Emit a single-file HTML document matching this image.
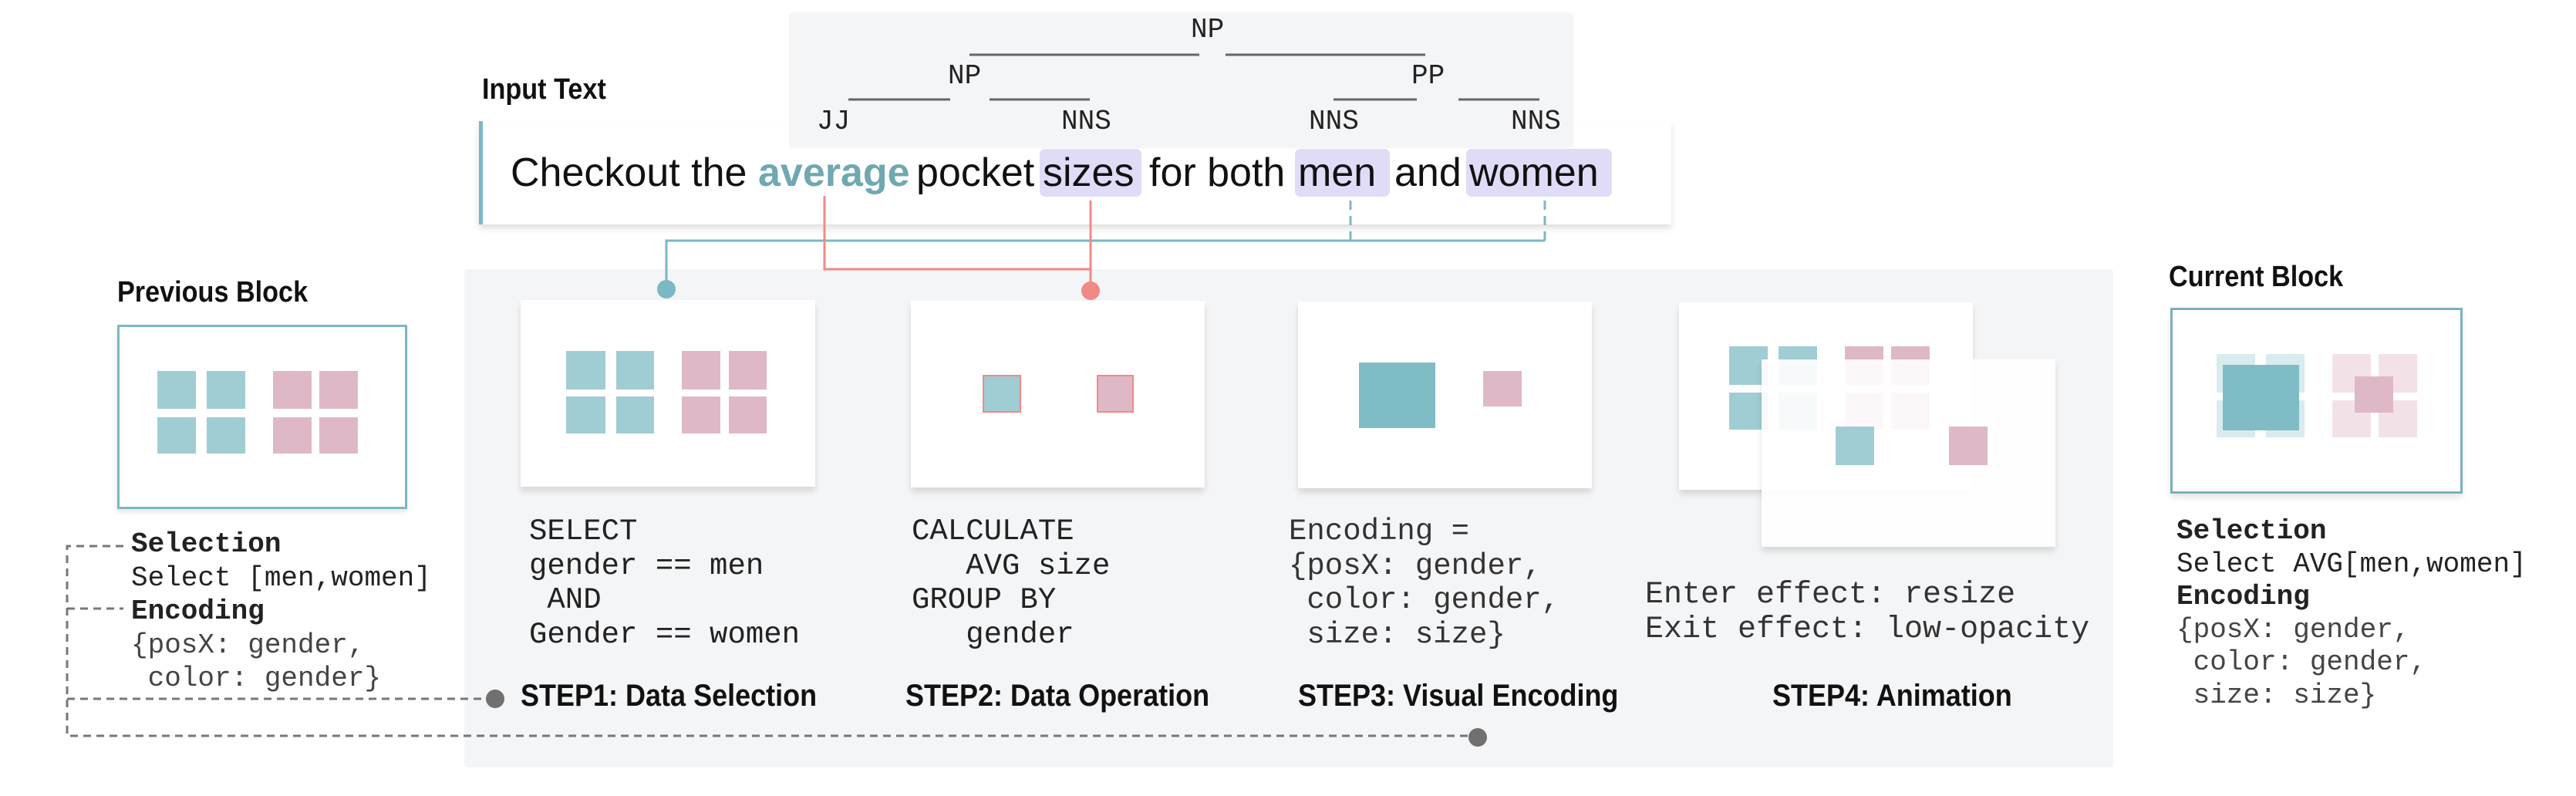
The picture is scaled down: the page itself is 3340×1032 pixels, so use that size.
<!DOCTYPE html>
<html><head><meta charset="utf-8"><style>
body{margin:0;width:3340px;height:1032px;background:#fff;position:relative;overflow:hidden;font-family:"Liberation Sans",sans-serif}
div,span{position:absolute;box-sizing:border-box}
.t{background:#a0ccd4}.p{background:#dfb8c8}
.card{background:#fff;box-shadow:0 6px 8px rgba(0,0,0,0.12)}
.mono{font-family:"Liberation Mono",monospace;white-space:pre;color:#222}
.lbl{font-weight:bold;color:#111;white-space:nowrap;transform:scaleX(0.9);transform-origin:left}
.hl{background:#e0dcf8;border-radius:7px}
#sent span{top:0;white-space:nowrap}
</style></head><body>
<!-- input text box -->
<div style="left:621px;top:157px;width:1546px;height:134px;background:#fff;box-shadow:0 5px 8px rgba(0,0,0,0.13);border-left:5px solid #7ab8c4"></div>
<div class="hl" style="left:1348px;top:193px;width:132px;height:62px"></div>
<div class="hl" style="left:1679px;top:193px;width:123px;height:62px"></div>
<div class="hl" style="left:1901px;top:193px;width:189px;height:62px"></div>
<div id="sent" style="left:0;top:193px;width:3340px;height:62px;line-height:62px;font-size:52px;color:#111">
<span style="left:662px">Checkout the</span>
<span style="left:983px;color:#6fa8b0;font-weight:bold">average</span>
<span style="left:1188px">pocket</span>
<span style="left:1352px">sizes</span>
<span style="left:1490px">for both</span>
<span style="left:1683px">men</span>
<span style="left:1808px">and</span>
<span style="left:1905px">women</span>
</div>
<!-- tree box -->
<div style="left:1023px;top:16px;width:1017px;height:176px;background:#f4f5f7;border-radius:5px"></div>
<div class="mono" style="left:0;top:0;width:3340px;height:200px;font-size:36px">
<span style="left:1544px;top:18px">NP</span>
<span style="left:1229px;top:78px">NP</span>
<span style="left:1830px;top:78px">PP</span>
<span style="left:1059px;top:137px">JJ</span>
<span style="left:1376px;top:137px">NNS</span>
<span style="left:1697px;top:137px">NNS</span>
<span style="left:1959px;top:137px">NNS</span>
</div>
<svg width="3340" height="1032" style="position:absolute;left:0;top:0" >
<g stroke="#666" stroke-width="3">
<line x1="1257" y1="71" x2="1555" y2="71"/><line x1="1589" y1="71" x2="1848" y2="71"/>
<line x1="1100" y1="129" x2="1232" y2="129"/><line x1="1283" y1="129" x2="1413" y2="129"/>
<line x1="1729" y1="129" x2="1837" y2="129"/><line x1="1891" y1="129" x2="1996" y2="129"/>
</g>
</svg>
<!-- big panel -->
<div style="left:602px;top:349px;width:2138px;height:646px;background:#f4f5f7;border-radius:4px"></div>
<!-- cards -->
<div class="card" style="left:675px;top:389px;width:382px;height:242px"></div>
<div class="t" style="left:734px;top:455px;width:51px;height:50px"></div><div class="t" style="left:799px;top:455px;width:49px;height:50px"></div>
<div class="t" style="left:734px;top:514px;width:51px;height:48px"></div><div class="t" style="left:799px;top:514px;width:49px;height:48px"></div>
<div class="p" style="left:884px;top:455px;width:50px;height:50px"></div><div class="p" style="left:945px;top:455px;width:49px;height:50px"></div>
<div class="p" style="left:884px;top:514px;width:50px;height:48px"></div><div class="p" style="left:945px;top:514px;width:49px;height:48px"></div>

<div class="card" style="left:1181px;top:390px;width:381px;height:242px"></div>
<div class="t" style="left:1274px;top:486px;width:50px;height:49px;border:2px solid #f08a84"></div>
<div class="p" style="left:1422px;top:486px;width:48px;height:49px;border:2px solid #f08a84"></div>

<div class="card" style="left:1683px;top:391px;width:381px;height:242px"></div>
<div style="left:1762px;top:470px;width:99px;height:85px;background:#80bcc6"></div>
<div class="p" style="left:1923px;top:481px;width:50px;height:46px"></div>

<div class="card" style="left:2177px;top:392px;width:381px;height:243px"></div>
<div class="t" style="left:2242px;top:449px;width:50px;height:50px"></div><div class="t" style="left:2306px;top:449px;width:50px;height:50px"></div>
<div class="t" style="left:2242px;top:509px;width:50px;height:48px"></div><div class="t" style="left:2306px;top:509px;width:50px;height:48px"></div>
<div class="p" style="left:2392px;top:449px;width:50px;height:50px"></div><div class="p" style="left:2452px;top:449px;width:50px;height:50px"></div>
<div class="p" style="left:2392px;top:509px;width:50px;height:48px"></div><div class="p" style="left:2452px;top:509px;width:50px;height:48px"></div>
<div style="left:2284px;top:466px;width:381px;height:243px;background:rgba(255,255,255,0.9);box-shadow:0 6px 8px rgba(0,0,0,0.12)"></div>
<div class="t" style="left:2380px;top:553px;width:50px;height:50px"></div>
<div class="p" style="left:2527px;top:553px;width:50px;height:50px"></div>

<!-- previous block -->
<div style="left:152px;top:421px;width:376px;height:239px;border:3px solid #7ab8c4;background:#fff;box-shadow:0 4px 6px rgba(0,0,0,0.1)"></div>
<div class="t" style="left:204px;top:481px;width:50px;height:49px"></div><div class="t" style="left:268px;top:481px;width:50px;height:49px"></div>
<div class="t" style="left:204px;top:541px;width:50px;height:47px"></div><div class="t" style="left:268px;top:541px;width:50px;height:47px"></div>
<div class="p" style="left:354px;top:481px;width:50px;height:49px"></div><div class="p" style="left:414px;top:481px;width:50px;height:49px"></div>
<div class="p" style="left:354px;top:541px;width:50px;height:47px"></div><div class="p" style="left:414px;top:541px;width:50px;height:47px"></div>

<!-- current block -->
<div style="left:2814px;top:399px;width:379px;height:241px;border:3px solid #7ab0bc;background:#fff;box-shadow:0 5px 8px rgba(0,0,0,0.1)"></div>
<div style="left:2874px;top:459px;width:50px;height:50px;background:#d8ebee"></div><div style="left:2938px;top:459px;width:50px;height:50px;background:#d8ebee"></div>
<div style="left:2874px;top:519px;width:50px;height:48px;background:#d8ebee"></div><div style="left:2938px;top:519px;width:50px;height:48px;background:#d8ebee"></div>
<div style="left:2882px;top:473px;width:99px;height:85px;background:#80bcc6"></div>
<div style="left:3024px;top:459px;width:50px;height:50px;background:#f2e2e8"></div><div style="left:3084px;top:459px;width:50px;height:50px;background:#f2e2e8"></div>
<div style="left:3024px;top:519px;width:50px;height:48px;background:#f2e2e8"></div><div style="left:3084px;top:519px;width:50px;height:48px;background:#f2e2e8"></div>
<div class="p" style="left:3053px;top:488px;width:50px;height:47px"></div>

<!-- connectors -->
<svg width="3340" height="1032" style="position:absolute;left:0;top:0">
<g fill="none" stroke="#7ab8c4" stroke-width="3">
<polyline points="864,375 864,312 2003,312"/>
<line x1="1751" y1="260" x2="1751" y2="312" stroke-dasharray="12,8"/>
<line x1="2003" y1="260" x2="2003" y2="312" stroke-dasharray="12,8"/>
</g>
<circle cx="864" cy="375" r="12" fill="#7ab8c4"/>
<g fill="none" stroke="#f08a84" stroke-width="3">
<polyline points="1069,254 1069,349 1414,349"/>
<line x1="1414" y1="260" x2="1414" y2="377"/>
</g>
<circle cx="1414" cy="377" r="12" fill="#f08a84"/>
<g fill="none" stroke="#777" stroke-width="3" stroke-dasharray="10,7">
<polyline points="160,708 87,708 87,954 1916,954"/>
<line x1="87" y1="789" x2="160" y2="789"/>
<line x1="87" y1="906" x2="642" y2="906"/>
</g>
<circle cx="642" cy="906" r="12" fill="#707070"/>
<circle cx="1916" cy="956" r="12" fill="#707070"/>
</svg>

<!-- labels -->
<div class="lbl" style="left:625px;top:94px;font-size:38px;line-height:44px">Input Text</div>
<div class="lbl" style="left:152px;top:357px;font-size:38px;line-height:44px">Previous Block</div>
<div class="lbl" style="left:2812px;top:337px;font-size:38px;line-height:44px">Current Block</div>
<div class="lbl" style="left:675px;top:878px;font-size:40px;line-height:48px">STEP1: Data Selection</div>
<div class="lbl" style="left:1174px;top:878px;font-size:40px;line-height:48px">STEP2: Data Operation</div>
<div class="lbl" style="left:1683px;top:878px;font-size:40px;line-height:48px">STEP3: Visual Encoding</div>
<div class="lbl" style="left:2298px;top:878px;font-size:40px;line-height:48px">STEP4: Animation</div>

<div class="mono" style="left:170px;top:684px;font-size:36px;line-height:43.5px"><b>Selection</b>
Select [men,women]
<b>Encoding</b>
<span style="position:static;color:#444">{posX: gender,
 color: gender}</span></div>
<div class="mono" style="left:686px;top:667px;font-size:39px;line-height:44.7px">SELECT
gender == men
 AND
Gender == women</div>
<div class="mono" style="left:1182px;top:667px;font-size:39px;line-height:44.7px">CALCULATE
   AVG size
GROUP BY
   gender</div>
<div class="mono" style="left:1671px;top:667px;font-size:39px;line-height:44.7px;color:#333">Encoding =
{posX: gender,
 color: gender,
 size: size}</div>
<div class="mono" style="left:2133px;top:749px;font-size:40px;line-height:45px;color:#333">Enter effect: resize
Exit effect: low-opacity</div>
<div class="mono" style="left:2822px;top:668px;font-size:36px;line-height:42.6px"><b>Selection</b>
Select AVG[men,women]
<b>Encoding</b>
<span style="position:static;color:#444">{posX: gender,
 color: gender,
 size: size}</span></div>
</body></html>
